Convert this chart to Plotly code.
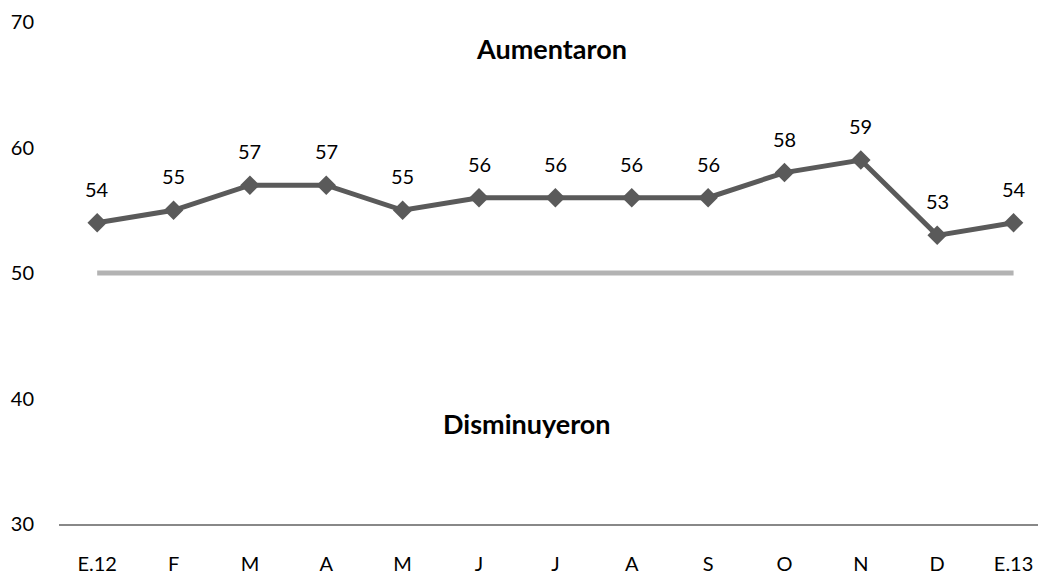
import plotly.graph_objects as go

categories = ["E.12", "F", "M", "A", "M ", "J", "J ", "A ", "S", "O", "N", "D", "E.13"]
tick_labels = ["E.12", "F", "M", "A", "M", "J", "J", "A", "S", "O", "N", "D", "E.13"]
aumentaron = [54, 55, 57, 57, 55, 56, 56, 56, 56, 58, 59, 53, 54]
reference = [50] * 13
y_ticks = [30, 40, 50, 60, 70]

FONT = "Lato"

fig = go.Figure()
fig.add_trace(go.Scatter(
    x=categories, y=reference, mode="lines",
    line=dict(color="#B3B3B3", width=5),
    hoverinfo="skip", showlegend=False,
))
fig.add_trace(go.Scatter(
    x=categories, y=aumentaron, mode="lines+markers",
    line=dict(color="#5A5A5A", width=5),
    marker=dict(symbol="diamond", size=15, color="#5A5A5A"),
    showlegend=False,
))
for c, v in zip(categories, aumentaron):
    fig.add_annotation(x=c, y=v, text=str(v), showarrow=False, yshift=34,
                       font=dict(family=FONT, size=20, color="#000000"))

fig.add_annotation(x=0.503, xref="paper", y=67.9, yref="y", text="<b>Aumentaron</b>",
                   showarrow=False,
                   font=dict(family=FONT, size=27, color="#000000"))
fig.add_annotation(x=0.478, xref="paper", y=38.0, yref="y", text="<b>Disminuyeron</b>",
                   showarrow=False,
                   font=dict(family=FONT, size=27, color="#000000"))

fig.update_layout(
    width=1038, height=576,
    margin=dict(l=59, r=0, t=22, b=52, autoexpand=False),
    plot_bgcolor="white", paper_bgcolor="white",
    font=dict(family=FONT, size=20, color="#000000"),
)
fig.update_xaxes(
    type="category", range=[-0.5, 12.32],
    tickvals=categories, ticktext=tick_labels,
    showgrid=False, zeroline=False, automargin=False,
    showline=True, linecolor="#888888", linewidth=2,
    ticks="", ticklabelstandoff=21,
    tickfont=dict(family=FONT, size=20, color="#000000"),
)
fig.update_yaxes(
    range=[30, 70], tickvals=y_ticks,
    showgrid=False, zeroline=False, showline=False, automargin=False,
    ticks="", ticklabelstandoff=24,
    tickfont=dict(family=FONT, size=20, color="#000000"),
)

fig.write_html("out.html", config={"displayModeBar": False},
               post_script="document.body.style.margin='0';document.body.style.overflow='hidden';")
